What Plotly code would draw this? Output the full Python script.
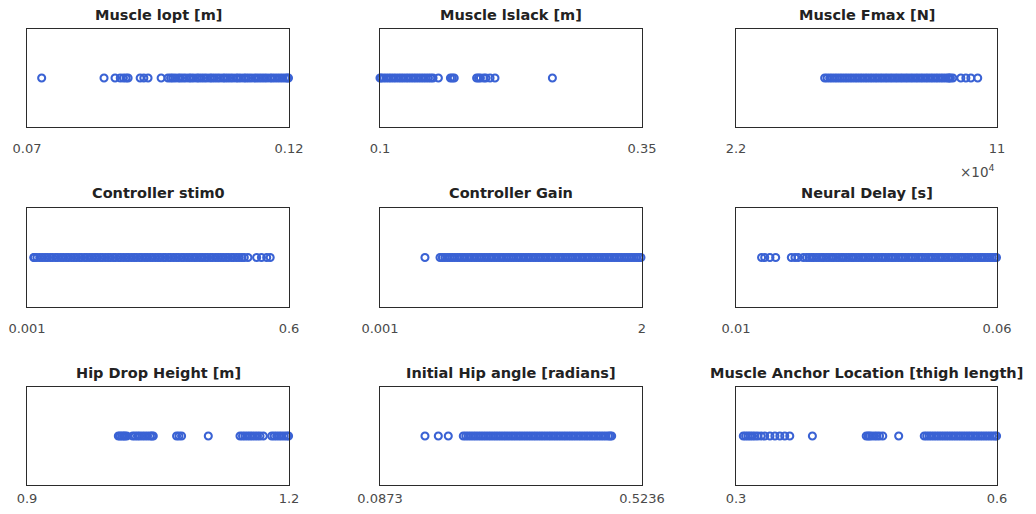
import plotly.graph_objects as go
from plotly.subplots import make_subplots

# ---------------- data ----------------
titles = [
    "Muscle lopt [m]", "Muscle lslack [m]", "Muscle Fmax [N]",
    "Controller stim0", "Controller Gain", "Neural Delay [s]",
    "Hip Drop Height [m]", "Initial Hip angle [radians]",
    "Muscle Anchor Location [thigh length]",
]

x_ranges = [
    (0.07, 0.12), (0.1, 0.35), (22000, 110000),
    (0.001, 0.6), (0.001, 2.0), (0.01, 0.06),
    (0.9, 1.2), (0.0873, 0.5236), (0.3, 0.6),
]

tick_labels = [
    ("0.07", "0.12"), ("0.1", "0.35"), ("2.2", "11"),
    ("0.001", "0.6"), ("0.001", "2"), ("0.01", "0.06"),
    ("0.9", "1.2"), ("0.0873", "0.5236"), ("0.3", "0.6"),
]

muscle_lopt = [
    0.0728, 0.0847, 0.0868, 0.0878, 0.0884, 0.0889, 0.0893, 0.0916, 0.0923,
    0.0931, 0.0956,
    0.0969, 0.0974, 0.0978, 0.0983, 0.0989, 0.0993, 0.0998, 0.1003, 0.1009,
    0.1013, 0.1018, 0.1024, 0.1028, 0.1033, 0.1038, 0.1043, 0.1049, 0.1053,
    0.1058, 0.1063, 0.1068, 0.1074, 0.1078, 0.1083, 0.1088, 0.1093, 0.1099,
    0.1103, 0.1108, 0.1114, 0.1118, 0.1123, 0.1128, 0.1134, 0.1138, 0.1143,
    0.1148, 0.1153, 0.1158, 0.1164, 0.1168, 0.1173, 0.1178, 0.1183, 0.1188,
    0.1193, 0.1197, 0.1199,
]

muscle_lslack = [
    0.1000, 0.1012, 0.1035, 0.1058, 0.1083, 0.1105, 0.1129, 0.1152, 0.1178,
    0.1201, 0.1224, 0.1249, 0.1272, 0.1296, 0.1320, 0.1343, 0.1367, 0.1391,
    0.1414, 0.1438, 0.1462, 0.1485, 0.1506,
    0.1557, 0.1672, 0.1690, 0.1708, 0.1922, 0.1940, 0.1958, 0.1990, 0.2010,
    0.2050, 0.2097, 0.2645,
]

muscle_fmax = [
    51900, 52700, 53600, 54400, 55300, 56100, 57000, 57800, 58700, 59500,
    60400, 61200, 62100, 62900, 63800, 64600, 65500, 66300, 67200, 68000,
    68900, 69700, 70600, 71400, 72300, 73100, 74000, 74800, 75700, 76500,
    77400, 78200, 79100, 79900, 80800, 81600, 82500, 83300, 84200, 85000,
    85900, 86700, 87600, 88400, 89300, 90100, 91000, 91800, 92700, 93500,
    93900, 94300, 95100, 97800, 99500, 101200, 103500,
]

controller_stim0 = [
    0.0165, 0.0177, 0.0236, 0.0301, 0.0358, 0.0421, 0.0477, 0.0542, 0.0598,
    0.0663, 0.0717, 0.0784, 0.0839, 0.0902, 0.0958, 0.1021, 0.1083, 0.1139,
    0.1204, 0.1257, 0.1322, 0.1379, 0.1441, 0.1498, 0.1563, 0.1617, 0.1684,
    0.1738, 0.1801, 0.1862, 0.1919, 0.1983, 0.2038, 0.2104, 0.2157, 0.2221,
    0.2283, 0.2339, 0.2402, 0.2461, 0.2518, 0.2584, 0.2639, 0.2702, 0.2758,
    0.2823, 0.2879, 0.2941, 0.3003, 0.3058, 0.3124, 0.3177, 0.3242, 0.3298,
    0.3361, 0.3422, 0.3479, 0.3543, 0.3598, 0.3662, 0.3719, 0.3781, 0.3842,
    0.3897, 0.3963, 0.4018, 0.4081, 0.4139, 0.4203, 0.4258, 0.4322, 0.4379,
    0.4441, 0.4499, 0.4562, 0.4618, 0.4683, 0.4737, 0.4801, 0.4859, 0.4922,
    0.4978, 0.5061, 0.5260, 0.5370, 0.5490, 0.5570,
]

controller_gain = [
    0.344,
    0.459, 0.477, 0.496, 0.515, 0.534, 0.552, 0.571, 0.590, 0.609, 0.627,
    0.646, 0.665, 0.684, 0.702, 0.721, 0.740, 0.759, 0.777, 0.796, 0.815,
    0.834, 0.852, 0.871, 0.890, 0.909, 0.927, 0.946, 0.965, 0.984, 1.002,
    1.021, 1.040, 1.059, 1.077, 1.096, 1.115, 1.134, 1.152, 1.171, 1.190,
    1.209, 1.227, 1.246, 1.265, 1.284, 1.302, 1.321, 1.340, 1.359, 1.377,
    1.396, 1.415, 1.434, 1.452, 1.471, 1.490, 1.509, 1.527, 1.546, 1.565,
    1.584, 1.602, 1.621, 1.640, 1.659, 1.677, 1.696, 1.715, 1.734, 1.752,
    1.771, 1.790, 1.809, 1.827, 1.846, 1.865, 1.884, 1.902, 1.921, 1.940,
    1.959, 1.977, 1.992,
]

neural_delay = [
    0.0149, 0.0155, 0.0165, 0.0176, 0.0206, 0.0213, 0.0219, 0.0229,
    0.0235, 0.0240, 0.0245, 0.0249, 0.0254, 0.0259, 0.0264, 0.0268, 0.0273,
    0.0278, 0.0283, 0.0287, 0.0292, 0.0297, 0.0302, 0.0306, 0.0311, 0.0316,
    0.0321, 0.0325, 0.0330, 0.0335, 0.0340, 0.0344, 0.0349, 0.0354, 0.0359,
    0.0363, 0.0368, 0.0373, 0.0378, 0.0382, 0.0387, 0.0392, 0.0397, 0.0401,
    0.0406, 0.0411, 0.0416, 0.0420, 0.0425, 0.0430, 0.0435, 0.0439, 0.0444,
    0.0449, 0.0454, 0.0458, 0.0463, 0.0468, 0.0473, 0.0477, 0.0482, 0.0487,
    0.0492, 0.0496, 0.0501, 0.0506, 0.0511, 0.0515, 0.0520, 0.0525, 0.0530,
    0.0534, 0.0539, 0.0544, 0.0549, 0.0553, 0.0558, 0.0563, 0.0568, 0.0572,
    0.0577, 0.0582, 0.0587, 0.0591, 0.0596, 0.0599,
]

hip_drop_height = [
    1.0046, 1.0065, 1.0085, 1.0105, 1.0120, 1.0142, 1.0210, 1.0237, 1.0265,
    1.0290, 1.0320, 1.0350, 1.0380, 1.0410, 1.0430, 1.0446,
    1.0713, 1.0740, 1.0770, 1.1076,
    1.1439, 1.1468, 1.1496, 1.1525, 1.1553, 1.1580, 1.1610, 1.1639, 1.1668,
    1.1706, 1.1802, 1.1830, 1.1859, 1.1888, 1.1916, 1.1945, 1.1974, 1.1995,
]

initial_hip_angle = [
    0.1622, 0.1844, 0.2010,
    0.2260, 0.2302, 0.2343, 0.2385, 0.2427, 0.2468, 0.2510, 0.2552, 0.2593,
    0.2635, 0.2677, 0.2718, 0.2760, 0.2802, 0.2843, 0.2885, 0.2927, 0.2968,
    0.3010, 0.3052, 0.3093, 0.3135, 0.3177, 0.3218, 0.3260, 0.3302, 0.3343,
    0.3385, 0.3427, 0.3468, 0.3510, 0.3552, 0.3593, 0.3635, 0.3677, 0.3718,
    0.3760, 0.3802, 0.3843, 0.3885, 0.3927, 0.3968, 0.4010, 0.4052, 0.4093,
    0.4135, 0.4177, 0.4218, 0.4260, 0.4302, 0.4343, 0.4385, 0.4427, 0.4468,
    0.4510, 0.4552, 0.4593, 0.4635, 0.4677, 0.4705, 0.4731,
]

muscle_anchor = [
    0.3084, 0.3110, 0.3137, 0.3163, 0.3190, 0.3218, 0.3250, 0.3290, 0.3330,
    0.3390, 0.3447, 0.3504, 0.3560, 0.3618, 0.3878,
    0.4497, 0.4520, 0.4535, 0.4560, 0.4592, 0.4620, 0.4650, 0.4687, 0.4870,
    0.5164, 0.5192, 0.5220, 0.5248, 0.5276, 0.5304, 0.5332, 0.5360, 0.5388,
    0.5416, 0.5444, 0.5472, 0.5500, 0.5528, 0.5556, 0.5584, 0.5612, 0.5640,
    0.5668, 0.5696, 0.5724, 0.5752, 0.5780, 0.5808, 0.5836, 0.5864, 0.5892,
    0.5920, 0.5948, 0.5976, 0.5995,
]

series = [
    muscle_lopt, muscle_lslack, muscle_fmax,
    controller_stim0, controller_gain, neural_delay,
    hip_drop_height, initial_hip_angle, muscle_anchor,
]

# ---------------- layout geometry ----------------
# page is 1036x514; the body has an 8px margin, so the figure is 1020x498
PAD = 8
W, H = 1036 - 2 * PAD, 514 - 2 * PAD
col_px = [(27, 289), (380, 642), (736, 997)]   # page pixels
row_px = [(29, 127), (208, 307), (387, 485)]
title_y_px = [15, 193, 373]
standoff = [9, 9, 1]


def px_x(v):
    return (v - PAD) / W


def px_y(v):
    return 1 - (v - PAD) / H


MARKER_COLOR = "#3a62d4"
TICK_FONT = "DejaVu Sans, Arial, sans-serif"
TITLE_FONT = "DejaVu Sans, Arial, sans-serif"

fig = make_subplots(rows=3, cols=3)

for i, vals in enumerate(series):
    r, c = divmod(i, 3)
    fig.add_trace(
        go.Scatter(
            x=vals,
            y=[0] * len(vals),
            mode="markers",
            marker=dict(symbol="circle-open", size=7, color=MARKER_COLOR,
                        line=dict(width=2.1, color=MARKER_COLOR)),
            cliponaxis=False,
            showlegend=False,
            hoverinfo="x",
        ),
        row=r + 1, col=c + 1,
    )

annotations = []
for i in range(9):
    r, c = divmod(i, 3)
    x0, x1 = col_px[c]
    y0, y1 = row_px[r]
    xa = "xaxis" if i == 0 else f"xaxis{i + 1}"
    ya = "yaxis" if i == 0 else f"yaxis{i + 1}"
    lo, hi = x_ranges[i]
    fig.layout[xa].update(
        domain=[px_x(x0), px_x(x1)],
        range=[lo, hi],
        tickvals=[lo, hi],
        ticktext=list(tick_labels[i]),
        ticks="",
        ticklabelstandoff=standoff[r],
        ticklabeloverflow="allow",
        automargin=False,
        showline=True, mirror=True, linecolor="#2b2b2b", linewidth=1.4,
        showgrid=False, zeroline=False,
        tickfont=dict(family=TICK_FONT, size=13, color="#4a4a4a"),
    )
    fig.layout[ya].update(
        domain=[px_y(y1), px_y(y0)],
        range=[-1, 1],
        showticklabels=False, ticks="",
        automargin=False,
        showline=True, mirror=True, linecolor="#2b2b2b", linewidth=1.4,
        showgrid=False, zeroline=False,
    )
    annotations.append(dict(
        text=f"<b>{titles[i]}</b>",
        x=px_x((x0 + x1) / 2), y=px_y(title_y_px[r]),
        xref="paper", yref="paper",
        xanchor="center", yanchor="middle",
        showarrow=False,
        font=dict(family=TITLE_FONT, size=14.5, color="#222222"),
    ))

# exponent label for the Fmax axis
annotations.append(dict(
    text="\u00d710<sup>4</sup>",
    x=px_x(977), y=px_y(171),
    xref="paper", yref="paper",
    xanchor="center", yanchor="middle",
    showarrow=False,
    font=dict(family=TICK_FONT, size=13.5, color="#4a4a4a"),
))

fig.update_layout(
    width=W, height=H,
    margin=dict(l=0, r=0, t=0, b=0),
    paper_bgcolor="white", plot_bgcolor="white",
    annotations=annotations,
    showlegend=False,
)

fig.write_html("out.html")
